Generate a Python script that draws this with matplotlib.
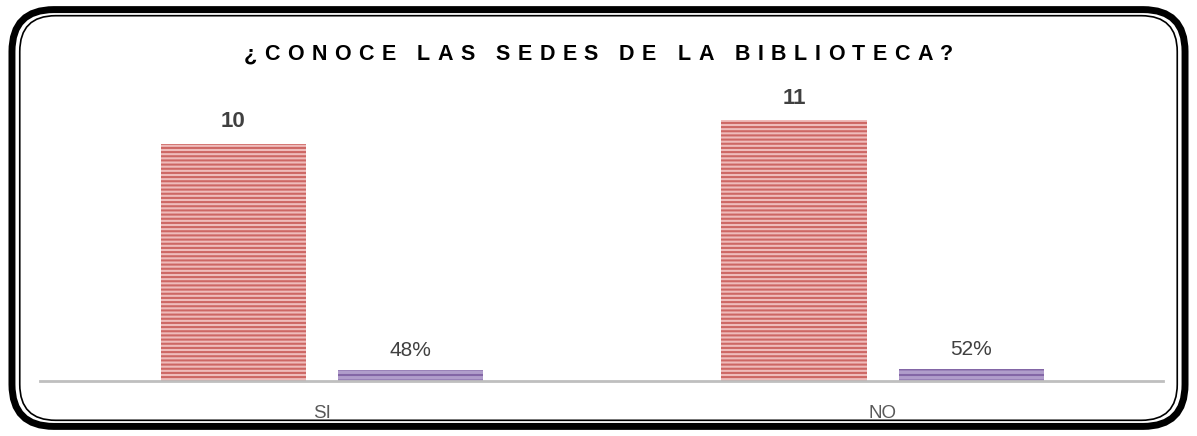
import matplotlib.pyplot as plt
from matplotlib.patches import FancyBboxPatch
import numpy as np

categorias = ["SI", "NO"]
frecuencia = [10, 11]
porcentaje = [0.48, 0.52]
etiquetas_pct = ["48%", "52%"]
titulo = "¿CONOCE LAS SEDES DE LA BIBLIOTECA?"

plt.rcParams["font.family"] = ["Liberation Sans", "DejaVu Sans"]
plt.rcParams["hatch.linewidth"] = 1.5

fig = plt.figure(figsize=(11.97, 4.36), dpi=100)

# marco redondeado doble
marco = FancyBboxPatch((0.010, 0.022), 0.980, 0.956, boxstyle="round,pad=0,rounding_size=0.035",
                       transform=fig.transFigure, facecolor="none", edgecolor="black",
                       linewidth=5, mutation_aspect=1197/436, zorder=0)
fig.patches.append(marco)
interior = FancyBboxPatch((0.0165, 0.036), 0.967, 0.928, boxstyle="round,pad=0,rounding_size=0.03",
                          transform=fig.transFigure, facecolor="none", edgecolor="black",
                          linewidth=1.2, mutation_aspect=1197/436, zorder=1)
fig.patches.append(interior)

ax = fig.add_axes([0.0334, 0.1261, 0.9382, 0.652])
ax.set_facecolor("none")
ax.set_zorder(2)

x = np.arange(len(categorias))
ancho = 0.259
desp = 0.158

b1 = ax.bar(x - desp, frecuencia, ancho, color="#efbcbb", edgecolor="#cd6764",
            hatch="----", linewidth=0)
b2 = ax.bar(x + desp, porcentaje, ancho, color="#b09dcb", edgecolor="#8366a6",
            hatch="---", linewidth=0)

for xi, v in zip(x - desp, frecuencia):
    ax.text(xi, v + 0.5, str(v), ha="center", va="bottom", fontsize=16,
            fontweight="bold", color="#404040")
for xi, v, t in zip(x + desp, porcentaje, etiquetas_pct):
    ax.text(xi, v + 0.4, t, ha="center", va="bottom", fontsize=15, color="#404040")

ax.set_xlim(-0.503, 1.5)
ax.set_ylim(0, 12)
ax.set_xticks(x)
ax.set_xticklabels(categorias, fontsize=13.5, color="#595959")
ax.tick_params(axis="x", length=0, pad=17)
ax.set_yticks([])
for s in ["top", "right", "left"]:
    ax.spines[s].set_visible(False)
ax.spines["bottom"].set_color("#bfbfbf")
ax.spines["bottom"].set_linewidth(2)

# titulo con letras espaciadas (una letra por texto)
renderer = fig.canvas.get_renderer()
tracking = 7.5
letras = []
anchos = []
for c in titulo:
    t = fig.text(0, 0.874, c, ha="left", va="center", fontsize=15.5,
                 fontweight="bold", color="black")
    w = t.get_window_extent(renderer).width if c != " " else 15.5 * 100 / 72 * 0.278
    letras.append(t)
    anchos.append(w)
total = sum(anchos) + tracking * (len(titulo) - 1)
xpix = (fig.bbox.width - total) / 2
for t, w in zip(letras, anchos):
    t.set_x(xpix / fig.bbox.width)
    xpix += w + tracking

fig.savefig("out.png", dpi=100)
